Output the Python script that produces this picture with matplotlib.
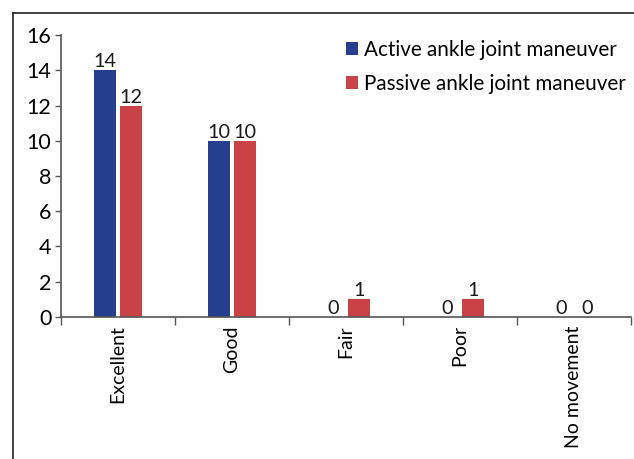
import numpy as np
import matplotlib
matplotlib.use("Agg")
from matplotlib import pyplot as plt
from matplotlib.lines import Line2D

# Datos del gráfico
categorias = ["Excellent", "Good", "Fair", "Poor", "No movement"]
activo = [14, 10, 0, 0, 0]
pasivo = [12, 10, 1, 1, 0]
series = ["Active ankle joint maneuver", "Passive ankle joint maneuver"]
y_ticks = [0, 2, 4, 6, 8, 10, 12, 14, 16]

azul = "#253F8E"
rojo = "#C94245"
gris = "#555555"

plt.rcParams["font.family"] = ["Lato", "DejaVu Sans"]

fig = plt.figure(figsize=(6.34, 4.59), dpi=100)
ax = fig.add_axes([0.0962, 0.3094, 0.899, 0.6143])

x = np.arange(len(categorias))
ancho = 0.2
desp = 0.114

b1 = ax.bar(x - desp, activo, ancho, color=azul, label=series[0])
b2 = ax.bar(x + desp, pasivo, ancho, color=rojo, label=series[1])

# Etiquetas de valor
for barras in (b1, b2):
    ax.bar_label(barras, padding=0, fontsize=14.3, color="#1a1a1a")

ax.set_xlim(-0.5, len(categorias) - 0.5)
ax.set_ylim(0, 16)
ax.set_yticks(y_ticks)
ax.tick_params(axis="y", labelsize=15.5, length=4, width=1, color=gris, pad=3)

# Ticks del eje x en los límites de categorías, etiquetas al centro
ax.set_xticks(np.arange(len(categorias) + 1) - 0.5)
ax.set_xticklabels([])
ax.set_xticks(x, minor=True)
ax.set_xticklabels(categorias, minor=True, rotation=90, fontsize=14, va="top")
ax.tick_params(axis="x", which="major", length=6, width=1, color=gris)
ax.tick_params(axis="x", which="minor", length=0, pad=6)

for lado in ("top", "right"):
    ax.spines[lado].set_visible(False)
for lado in ("left", "bottom"):
    ax.spines[lado].set_color(gris)
    ax.spines[lado].set_linewidth(1.2)

ax.legend(loc="upper right", bbox_to_anchor=(1.023, 1.05), frameon=False,
          fontsize=14.9, handlelength=0.62, handleheight=0.62,
          handletextpad=0.25, labelspacing=0.7)

# Marco exterior (solo izquierda y arriba)
fig.add_artist(Line2D([12.5 / 634, 12.5 / 634], [0, 1 - 12.5 / 459],
                      transform=fig.transFigure, color="#222222", lw=1.2))
fig.add_artist(Line2D([12.5 / 634, 1], [1 - 12.5 / 459, 1 - 12.5 / 459],
                      transform=fig.transFigure, color="#222222", lw=1.2))

fig.savefig("out.png", dpi=100)
